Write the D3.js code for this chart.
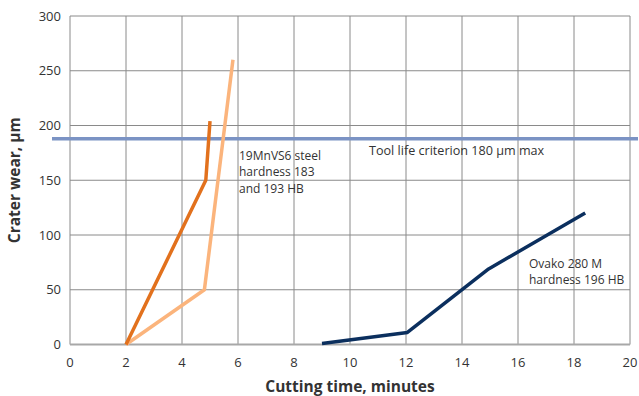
<!DOCTYPE html>
<html>
<head>
<meta charset="utf-8">
<script src="https://cdn.jsdelivr.net/npm/d3@7"></script>
<style>
  html, body { margin: 0; padding: 0; background: #fff; }
  svg text { font-family: "Open Sans", "Noto Sans", sans-serif; fill: #333; }
</style>
</head>
<body>
<div id="chart"></div>
<script>
// data
const xTicks = [0, 2, 4, 6, 8, 10, 12, 14, 16, 18, 20];
const yTicks = [0, 50, 100, 150, 200, 250, 300];

const darkOrangeX = [2, 4.85, 5.0];
const darkOrangeY = [0, 150, 204];

const lightOrangeX = [2, 4.8, 5.82];
const lightOrangeY = [0, 50, 260];

const ovakoX = [9.0, 12.05, 14.95, 18.4];
const ovakoY = [1, 11, 69, 120];

const criterionY = 188;

const width = 639, height = 396;
const margin = { top: 16, right: 9, bottom: 51.5, left: 70 };

const svg = d3.select('#chart')
  .append('svg')
  .attr('width', width)
  .attr('height', height);

const x = d3.scaleLinear().domain([0, 20]).range([margin.left, width - margin.right]);
const y = d3.scaleLinear().domain([0, 300]).range([height - margin.bottom, margin.top]);

// grid
svg.append('g')
  .selectAll('line')
  .data(xTicks)
  .enter()
  .append('line')
  .attr('x1', d => x(d)).attr('x2', d => x(d))
  .attr('y1', y(300)).attr('y2', y(0))
  .attr('stroke', '#8a8a8a')
  .attr('stroke-width', 1);

svg.append('g')
  .selectAll('line')
  .data(yTicks.filter(d => d > 0))
  .enter()
  .append('line')
  .attr('x1', x(0)).attr('x2', x(20))
  .attr('y1', d => y(d)).attr('y2', d => y(d))
  .attr('stroke', '#8a8a8a')
  .attr('stroke-width', 1);

// bottom axis line
svg.append('line')
  .attr('x1', x(0)).attr('x2', x(20))
  .attr('y1', y(0)).attr('y2', y(0))
  .attr('stroke', '#a8a8a8')
  .attr('stroke-width', 2);

// tick labels
svg.append('g')
  .selectAll('text')
  .data(xTicks)
  .enter()
  .append('text')
  .attr('x', d => x(d))
  .attr('y', y(0) + 22)
  .attr('text-anchor', 'middle')
  .style('font-size', '13px')
  .text(d => d);

svg.append('g')
  .selectAll('text')
  .data(yTicks)
  .enter()
  .append('text')
  .attr('x', x(0) - 9)
  .attr('y', d => y(d) + 4.5)
  .attr('text-anchor', 'end')
  .style('font-size', '13px')
  .text(d => d);

// axis titles
svg.append('text')
  .attr('x', 350)
  .attr('y', 392)
  .attr('text-anchor', 'middle')
  .style('font-size', '15.5px')
  .style('font-weight', 'bold')
  .text('Cutting time, minutes');

svg.append('text')
  .attr('transform', `translate(20, ${(y(0) + y(300)) / 2}) rotate(-90)`)
  .attr('text-anchor', 'middle')
  .style('font-size', '15.5px')
  .style('font-weight', 'bold')
  .text('Crater wear, µm');

// criterion line
svg.append('line')
  .attr('x1', 52).attr('x2', 638)
  .attr('y1', y(criterionY)).attr('y2', y(criterionY))
  .attr('stroke', '#7b93c4')
  .attr('stroke-width', 3.5);

// series
const line = d3.line().x(d => x(d[0])).y(d => y(d[1]));

const series = [
  { xs: lightOrangeX, ys: lightOrangeY, color: '#fbb47c' },
  { xs: darkOrangeX, ys: darkOrangeY, color: '#e2711d' },
  { xs: ovakoX, ys: ovakoY, color: '#0b2f5e' }
];

series.forEach(s => {
  svg.append('path')
    .datum(s.xs.map((v, i) => [v, s.ys[i]]))
    .attr('d', line)
    .attr('fill', 'none')
    .attr('stroke', s.color)
    .attr('stroke-width', 3.5)
    .attr('stroke-linejoin', 'round');
});

// annotations, one text per line so the lines don't collide
const note = (lines, px, py, size) => {
  lines.forEach((l, i) => {
    svg.append('text')
      .attr('x', px)
      .attr('y', py + i * 16.4)
      .style('font-size', size + 'px')
      .text(l);
  });
};

note(['19MnVS6 steel', 'hardness 183', 'and 193 HB'], 239, 160, 12);
note(['Tool life criterion 180 µm max'], 369, 155, 12.6);
note(['Ovako 280 M', 'hardness 196 HB'], 529, 267.5, 12);
</script>
</body>
</html>
